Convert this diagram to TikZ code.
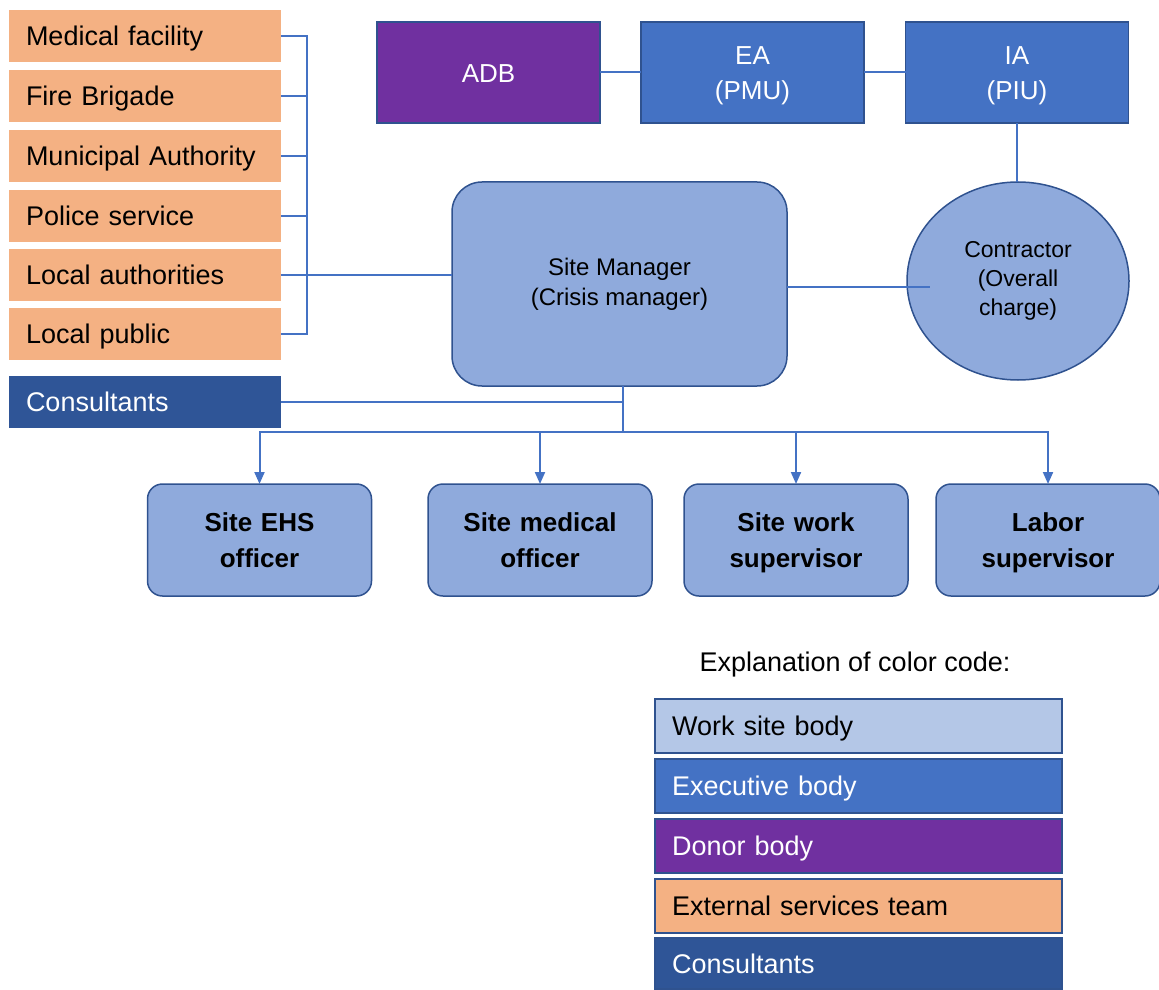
\documentclass[tikz,border=0pt]{standalone}
\usepackage{fontspec}
\setmainfont{Liberation Sans}
\usetikzlibrary{shapes.geometric,arrows.meta}
\definecolor{extorange}{HTML}{F4B183}
\definecolor{execblue}{HTML}{4472C4}
\definecolor{donorpurple}{HTML}{7030A0}
\definecolor{consblue}{HTML}{2F5597}
\definecolor{siteblue}{HTML}{8FAADC}
\definecolor{workblue}{HTML}{B4C7E7}
\definecolor{edgeblue}{HTML}{2F528F}
\definecolor{lineblue}{HTML}{4472C4}
\newcommand\capstrut{\rule[-3pt]{0pt}{15.7pt}}
\begin{document}
\begin{tikzpicture}[x=0.5pt, y=-0.5pt,
    every node/.style = {inner sep=0pt, outer sep=0pt, text=black,
                         font=\fontsize{13.5}{16}\selectfont},
       sidebox/.style = {rectangle, minimum width=136pt, minimum height=26pt,
                         text width=119pt, align=left, inner xsep=8.5pt,
                         execute at begin node=\capstrut},
        extbox/.style = {sidebox, fill=extorange},
       consbox/.style = {sidebox, fill=consblue, text=white},
        topbox/.style = {rectangle, draw=edgeblue, line width=0.75pt,
                         minimum width=111.5pt, minimum height=50.5pt,
                         text width=111.5pt, align=center, text=white,
                         font=\fontsize{13}{17.5}\selectfont,
                         execute at begin node=\capstrut,
                         execute at end node=\capstrut},
       sitebox/.style = {rectangle, rounded corners=7.5pt, draw=edgeblue,
                         line width=0.75pt, fill=siteblue,
                         minimum width=112pt, minimum height=56pt,
                         text width=112pt, align=center,
                         font=\bfseries\fontsize{13}{18}\selectfont,
                         execute at begin node=\capstrut,
                         execute at end node=\capstrut},
        keybox/.style = {sidebox, draw=edgeblue, line width=0.75pt,
                         minimum width=203.5pt, text width=186.5pt,
                         minimum height=27pt},
          link/.style = {draw=lineblue, line width=1pt},
         arrow/.style = {link, -{Triangle[width=5pt,length=6pt]}},]%
  \useasboundingbox (0,0) rectangle (1159,989);
  % external services
  \node [extbox]  (medfac)    at (145,36)  {Medical facility};
  \node [extbox]  (fire)      at (145,96)  {Fire Brigade};
  \node [extbox]  (muni)      at (145,156) {Municipal Authority};
  \node [extbox]  (police)    at (145,216) {Police service};
  \node [extbox]  (localauth) at (145,275) {Local authorities};
  \node [extbox]  (localpub)  at (145,334) {Local public};
  \node [consbox] (consult)   at (145,401.5) {Consultants};
  % executive chain
  \node [topbox, fill=donorpurple] (adb) at (488.5,72.5) {ADB};
  \node [topbox, fill=execblue]    (ea)  at (752.5,72.5) {EA\\(PMU)};
  \node [topbox, fill=execblue]    (ia)  at (1017,72.5)  {IA\\(PIU)};
  % site management
  \node [rectangle, rounded corners=15pt, draw=edgeblue, line width=0.75pt,
         fill=siteblue, minimum width=167.5pt, minimum height=102pt,
         align=center, font=\fontsize{12}{15}\selectfont]
                  (sm)  at (619.5,284) {Site Manager\\(Crisis manager)};
  \node [ellipse, draw=edgeblue, line width=0.75pt, fill=siteblue,
         minimum width=111pt, minimum height=99pt, align=center,
         font=\fontsize{11.5}{14.5}\selectfont]
                  (ctr) at (1018,281) {Contractor\\(Overall\\charge)};
  % site staff
  \node [sitebox] (ehs)      at (259.5,540) {Site EHS\\officer};
  \node [sitebox] (medoff)   at (540,540)   {Site medical\\officer};
  \node [sitebox] (worksup)  at (796,540)   {Site work\\supervisor};
  \node [sitebox] (laborsup) at (1048,540)  {Labor\\supervisor};
  % connectors
  \coordinate (bar) at (307,0);
  \coordinate (bus) at (623,432);
  \draw [link] (medfac.east) -- (medfac.east -| bar)
               -- (localpub.east -| bar) -- (localpub.east);
  \foreach \n in {fire,muni,police}
    \draw [link] (\n.east) -- (\n.east -| bar);
  \draw [link] (localauth.east) -- (sm.west |- localauth.east);
  \draw [link] (adb.east) -- (ea.west);
  \draw [link] (ea.east) -- (ia.west);
  \draw [link] (ia.south) -- (ia.south |- ctr.north);
  \draw [link] (sm.east |- 0,287) -- ([xshift=11.5pt]ctr.west |- 0,287);
  \draw [link] (sm.south -| bus) -- (bus);
  \draw [link] (consult.east) -- (consult.east -| bus);
  \foreach \n in {ehs,medoff,worksup,laborsup}
    \draw [arrow] (bus) -| (\n.north);
  % colour key
  \node (keytitle) at (855,665) {Explanation of color code:};
  \node [keybox, fill=workblue]              (keywork)  at (858.5,726)   {Work site body};
  \node [keybox, fill=execblue, text=white]  (keyexec)  at (858.5,786)   {Executive body};
  \node [keybox, fill=donorpurple, text=white] (keydonor) at (858.5,846) {Donor body};
  \node [keybox, fill=extorange]             (keyext)   at (858.5,906)   {External services team};
  \node [keybox, fill=consblue, text=white, minimum height=25.5pt]
                                             (keycons)  at (858.5,963.5) {Consultants};
\end{tikzpicture}
\end{document}
